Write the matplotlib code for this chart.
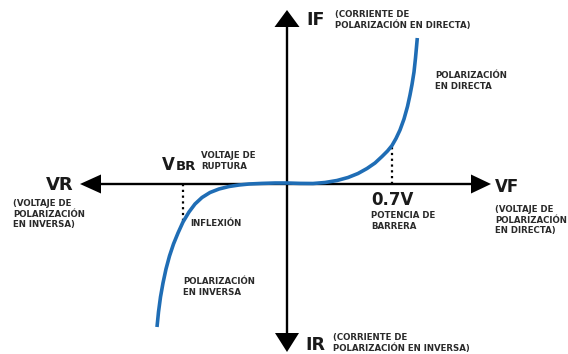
import numpy as np
import matplotlib.pyplot as plt
from matplotlib.patches import Polygon

# diode I-V curve (origin at axes crossing, 1 unit = 1 px)
curve_v = [-130, -128.5, -126.5, -124, -121, -117.5, -113.5, -109, -104, -98, -92,
           -85, -77, -68, -58, -48, -38, -25, -12, 0, 13, 26, 38, 50, 61, 71, 80,
           88, 95, 100.5, 105, 109, 113, 117, 120.5, 123, 125, 127, 128.5, 129.5, 130.3]
curve_i = [-143, -128, -113, -99, -85, -72, -60, -49, -38, -28, -20,
           -13.5, -8.5, -5, -2.5, -1, 0, 0.6, 1, 1, 0.6, 0.5, 1.5, 3.5, 6.5, 10.5, 15.5,
           21, 27.5, 33, 38.5, 45.5, 54, 65, 77.5, 89, 99.5, 112, 126, 137, 146]

vbr_v = -104       # inflexion / breakdown marker
vbr_i = -38
knee_v = 105       # 0.7V barrier marker
knee_i = 38.5

blue = "#1f6db5"
dark = "#1a1a1a"
FONT = "DejaVu Sans"

fig = plt.figure(figsize=(5.68, 3.54), dpi=100)
ax = fig.add_axes([0, 0, 1, 1])
ax.set_xlim(-287, 281)
ax.set_ylim(-170, 184)
ax.axis("off")

# axes with arrow heads
lw = 1.7
ax.plot([-195, 193], [0, 0], color="black", lw=lw, solid_capstyle="butt")
ax.plot([0, 0], [-152, 160], color="black", lw=lw, solid_capstyle="butt")
heads = [
    [(-207, 0), (-186, 9.5), (-186, -9.5)],
    [(204, 0), (184, 9.5), (184, -9.5)],
    [(0, 174), (-12.5, 157), (12.5, 157)],
    [(0, -168), (-12, -149), (12, -149)],
]
for h in heads:
    ax.add_patch(Polygon(h, closed=True, color="black", lw=0))

# dotted guides
ax.plot([vbr_v, vbr_v], [0, vbr_i], color="black", lw=1.6, ls=(0, (1, 1.6)))
ax.plot([knee_v, knee_v], [0, knee_i], color="black", lw=1.6, ls=(0, (1, 1.6)))

ax.plot(curve_v, curve_i, color=blue, lw=2.6, solid_capstyle="butt",
        solid_joinstyle="round", zorder=5)

big = dict(fontfamily=FONT, fontweight="bold", color=dark, va="center", ha="left")
small = dict(fontfamily=FONT, fontweight="bold", color="#2a2a2a", va="top", ha="left",
             fontsize=6.2, linespacing=1.25)

ax.text(19, 164, "IF", fontsize=12.5, **big)
ax.text(48, 174, "(CORRIENTE DE\nPOLARIZACIÓN EN DIRECTA)", **small)
ax.text(148, 113, "POLARIZACIÓN\nEN DIRECTA", **small)

ax.text(-241, -1, "VR", fontsize=13, **big)
ax.text(-274, -15, "(VOLTAJE DE\nPOLARIZACIÓN\nEN INVERSA)", **small)

ax.text(-125, 19, "V", fontsize=12, **big)
ax.text(-111, 17.5, "BR", fontsize=9.5, **big)
ax.text(-86, 33, "VOLTAJE DE\nRUPTURA", **small)
ax.text(-97, -35, "INFLEXIÓN", **small)
ax.text(-104, -93, "POLARIZACIÓN\nEN INVERSA", **small)

ax.text(84, -16, "0.7V", fontsize=12, **big)
ax.text(84, -27, "POTENCIA DE\nBARRERA", **small)

ax.text(208, -3, "VF", fontsize=12, **big)
ax.text(208, -21, "(VOLTAJE DE\nPOLARIZACIÓN\nEN DIRECTA)", **small)

ax.text(18, -161, "IR", fontsize=12.5, **big)
ax.text(46, -149, "(CORRIENTE DE\nPOLARIZACIÓN EN INVERSA)", **small)

fig.savefig("out.png", dpi=100, facecolor="white")
